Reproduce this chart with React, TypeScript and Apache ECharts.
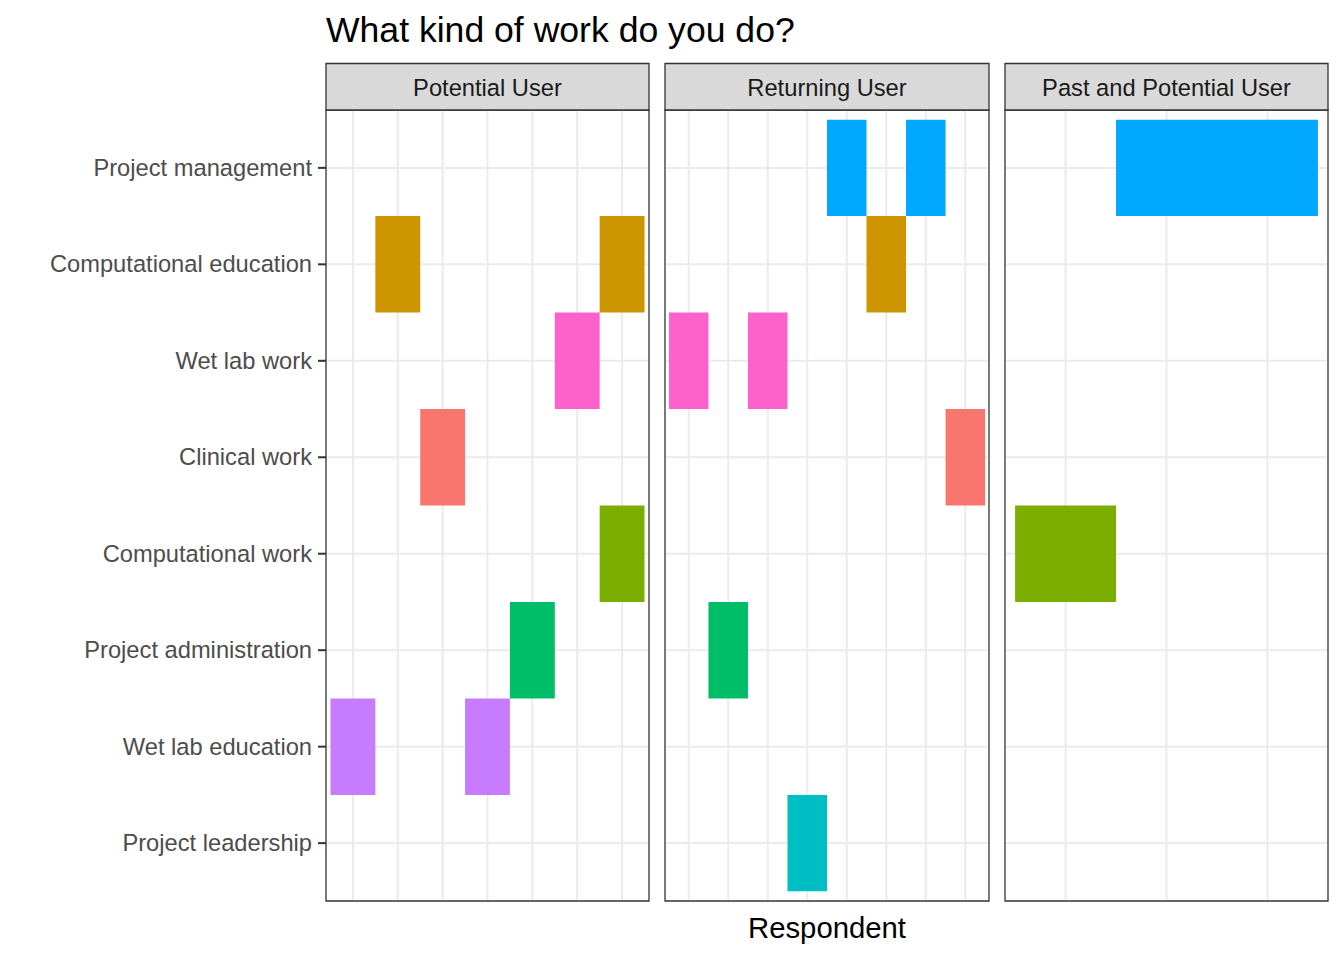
import React, { useEffect, useRef } from "react";
import * as echarts from "echarts";

// ---- data ----
const chartTitle = "What kind of work do you do?";
const xAxisTitle = "Respondent";
const categories = [
  "Project management",
  "Computational education",
  "Wet lab work",
  "Clinical work",
  "Computational work",
  "Project administration",
  "Wet lab education",
  "Project leadership",
];
// ggplot hue palette, alphabetical order of work types
const workTypesAlpha = [
  "Clinical work",
  "Computational education",
  "Computational work",
  "Project administration",
  "Project leadership",
  "Project management",
  "Wet lab education",
  "Wet lab work",
];
const workColors = ["#F8766D", "#CD9600", "#7CAE00", "#00BE67", "#00BFC4", "#00A9FF", "#C77CFF", "#FF61CC"];

const facets = ["Potential User", "Returning User", "Past and Potential User"];

const potentialRespondents = ["P1", "P2", "P3", "P4", "P5", "P6", "P7"];
const potentialWork = [
  ["P1", "Wet lab education"],
  ["P2", "Computational education"],
  ["P3", "Clinical work"],
  ["P4", "Wet lab education"],
  ["P5", "Project administration"],
  ["P6", "Wet lab work"],
  ["P7", "Computational education"],
  ["P7", "Computational work"],
];

const returningRespondents = ["R1", "R2", "R3", "R4", "R5", "R6", "R7", "R8"];
const returningWork = [
  ["R1", "Wet lab work"],
  ["R2", "Project administration"],
  ["R3", "Wet lab work"],
  ["R4", "Project leadership"],
  ["R5", "Project management"],
  ["R6", "Computational education"],
  ["R7", "Project management"],
  ["R8", "Clinical work"],
];

const pastPotentialRespondents = ["Q1", "Q2", "Q3"];
const pastPotentialWork = [
  ["Q1", "Computational work"],
  ["Q2", "Project management"],
  ["Q3", "Project management"],
];

const facetRespondents = [potentialRespondents, returningRespondents, pastPotentialRespondents];
const facetWork = [potentialWork, returningWork, pastPotentialWork];

// ---- layout ----
const panelLefts = [326, 665, 1005];
const panelWidths = [323, 324, 323];
const panelTop = 110;
const panelHeight = 791;
const stripTop = 63.5;
const stripHeight = 46.5;
const FONT = "Liberation Sans, Arial, Helvetica, sans-serif";

function colorOf(w: string) {
  return workColors[workTypesAlpha.indexOf(w)];
}

export default function App() {
  const ref = useRef<HTMLDivElement>(null);

  useEffect(() => {
    if (!ref.current) return;
    const chart = echarts.init(ref.current, null, { renderer: "svg" });

    const grids: any[] = [];
    const xAxes: any[] = [];
    const yAxes: any[] = [];
    const series: any[] = [];
    const graphics: any[] = [];

    const catIdx = categories.map((_, i) => i);

    facets.forEach((facet, i) => {
      const respondents = facetRespondents[i];
      const work = facetWork[i];
      grids.push({
        left: panelLefts[i],
        top: panelTop,
        width: panelWidths[i],
        height: panelHeight,
        show: true,
        backgroundColor: "#fff",
        borderColor: "#333333",
        borderWidth: 1.3,
        containLabel: false,
      });
      xAxes.push({
        type: "value",
        gridIndex: i,
        min: -0.6,
        max: respondents.length - 0.4,
        show: false,
        splitLine: { show: false },
      });
      yAxes.push({
        type: "value",
        gridIndex: i,
        inverse: true,
        min: -0.6,
        max: categories.length - 0.4,
        show: i === 0,
        axisLine: { show: false },
        splitLine: { show: false },
        axisTick: { show: false },
        axisLabel: {
          show: i === 0,
          customValues: catIdx,
          margin: 14,
          color: "#4D4D4D",
          fontSize: 23.7,
          fontFamily: FONT,
          formatter: (v: number) => categories[Math.round(v)] ?? "",
        },
      });

      // vertical grid lines at respondents
      series.push({
        type: "custom",
        xAxisIndex: i,
        yAxisIndex: i,
        silent: true,
        z: 1,
        data: respondents.map((_, k) => [k, 0]),
        renderItem: (params: any, api: any) => {
          const cs = params.coordSys;
          const x = api.coord([api.value(0), 0])[0];
          return {
            type: "line",
            shape: { x1: x, y1: cs.y + 1, x2: x, y2: cs.y + cs.height - 1 },
            style: { stroke: "#EBEBEB", lineWidth: 2 },
          };
        },
      });
      // horizontal grid lines at categories
      series.push({
        type: "custom",
        xAxisIndex: i,
        yAxisIndex: i,
        silent: true,
        z: 1,
        data: catIdx.map((j) => [0, j]),
        renderItem: (params: any, api: any) => {
          const cs = params.coordSys;
          const y = api.coord([0, api.value(1)])[1];
          return {
            type: "line",
            shape: { x1: cs.x + 1, y1: y, x2: cs.x + cs.width - 1, y2: y },
            style: { stroke: "#EBEBEB", lineWidth: 2 },
          };
        },
      });
      // y-axis ticks (left panel only)
      if (i === 0) {
        series.push({
          type: "custom",
          xAxisIndex: i,
          yAxisIndex: i,
          silent: true,
          clip: false,
          z: 5,
          data: catIdx.map((j) => [0, j]),
          renderItem: (params: any, api: any) => {
            const cs = params.coordSys;
            const y = api.coord([0, api.value(1)])[1];
            return {
              type: "line",
              shape: { x1: cs.x - 8, y1: y, x2: cs.x, y2: y },
              style: { stroke: "#333333", lineWidth: 2 },
            };
          },
        });
      }
      // tiles
      series.push({
        type: "custom",
        xAxisIndex: i,
        yAxisIndex: i,
        z: 2,
        data: work.map(([r, w]) => ({
          value: [respondents.indexOf(r), categories.indexOf(w)],
          itemStyle: { color: colorOf(w) },
        })),
        renderItem: (params: any, api: any) => {
          const x = api.value(0);
          const y = api.value(1);
          const p1 = api.coord([x - 0.5, y - 0.5]);
          const p2 = api.coord([x + 0.5, y + 0.5]);
          return {
            type: "rect",
            shape: {
              x: Math.min(p1[0], p2[0]),
              y: Math.min(p1[1], p2[1]),
              width: Math.abs(p2[0] - p1[0]),
              height: Math.abs(p2[1] - p1[1]),
            },
            style: { fill: api.visual("color") },
          };
        },
      });

      // strip
      graphics.push({
        type: "rect",
        shape: { x: panelLefts[i], y: stripTop, width: panelWidths[i], height: stripHeight },
        style: { fill: "#D9D9D9", stroke: "#333333", lineWidth: 1.3 },
        z: 10,
      });
      graphics.push({
        type: "text",
        x: panelLefts[i] + panelWidths[i] / 2,
        y: 88,
        style: {
          text: facet,
          align: "center",
          verticalAlign: "middle",
          fill: "#1A1A1A",
          fontSize: 23.7,
          fontFamily: FONT,
        },
        z: 11,
      });
    });

    graphics.push({
      type: "text",
      x: 326,
      y: 29.5,
      style: {
        text: chartTitle,
        align: "left",
        verticalAlign: "middle",
        fill: "#000",
        fontSize: 35.6,
        fontFamily: FONT,
      },
    });
    graphics.push({
      type: "text",
      x: 827,
      y: 927,
      style: {
        text: xAxisTitle,
        align: "center",
        verticalAlign: "middle",
        fill: "#000",
        fontSize: 29.3,
        fontFamily: FONT,
      },
    });

    chart.setOption({
      animation: false,
      backgroundColor: "#fff",
      grid: grids,
      xAxis: xAxes,
      yAxis: yAxes,
      series,
      graphic: graphics,
    });

    return () => chart.dispose();
  }, []);

  return (
    <div
      ref={ref}
      style={{ position: "fixed", left: 0, top: 0, width: 1344, height: 960, background: "#fff" }}
    />
  );
}
